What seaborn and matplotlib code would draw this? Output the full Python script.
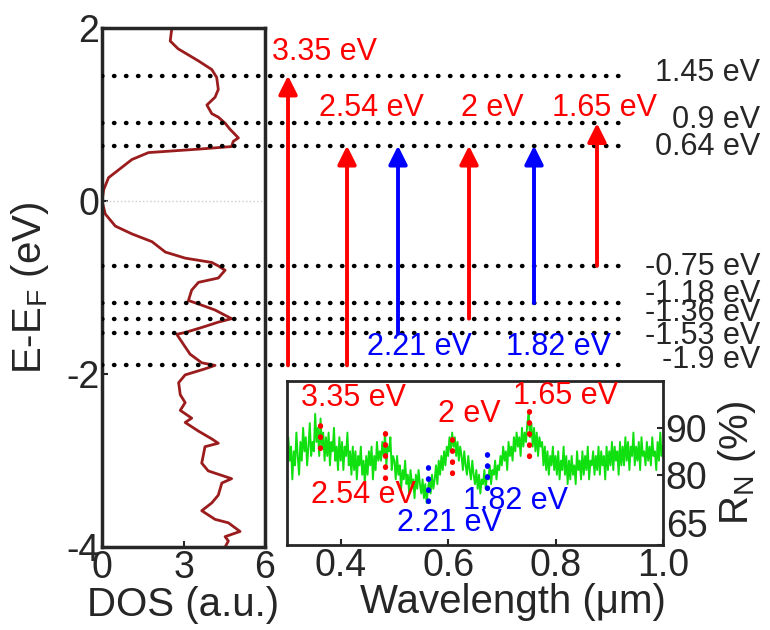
import numpy as np
import matplotlib
matplotlib.use("Agg")
import matplotlib.pyplot as plt
import seaborn as sns

# DOS curve (energy in eV, DOS in a.u.)
dos = [2.57, 2.51, 2.8, 3.55, 4.04, 4.22, 4.28, 4.16, 3.86, 4.04, 4.28, 4.53, 4.71,
       5.02, 4.83, 4.77, 3.55, 1.71, 1.10, 0.61, 0.24, 0.06, 0.0, 0.12, 0.49, 1.10,
       1.84, 2.33, 3.06, 4.04, 4.28, 4.53, 4.28, 3.55, 3.30, 3.18, 3.55, 4.16, 4.77,
       4.28, 3.79, 3.06, 2.75, 2.94, 3.24, 3.67, 4.16, 3.79, 3.06, 2.82, 2.88, 3.06,
       2.88, 3.30, 3.06, 3.55, 4.04, 4.28, 3.79, 3.67, 3.91, 4.77, 4.41, 4.28, 4.04,
       3.67, 4.16, 4.65, 5.08, 4.53, 4.65, 4.53]
energy = [2.0, 1.85, 1.76, 1.62, 1.52, 1.43, 1.29, 1.20, 1.11, 1.01, 0.97, 0.90, 0.83,
          0.73, 0.69, 0.63, 0.60, 0.56, 0.48, 0.36, 0.27, 0.13, 0.0, -0.15, -0.29, -0.38,
          -0.47, -0.59, -0.66, -0.71, -0.75, -0.80, -0.89, -0.94, -1.03, -1.15, -1.19, -1.26, -1.36,
          -1.40, -1.45, -1.52, -1.54, -1.63, -1.77, -1.87, -1.90, -1.94, -2.01, -2.10, -2.24, -2.33,
          -2.42, -2.51, -2.56, -2.66, -2.75, -2.80, -2.84, -3.03, -3.12, -3.21, -3.26, -3.40, -3.49,
          -3.58, -3.68, -3.72, -3.82, -3.88, -3.93, -4.0]

# energy levels
levels = [1.45, 0.9, 0.64, -0.75, -1.18, -1.36, -1.53, -1.9]
level_labels = ["1.45 eV", "0.9 eV", "0.64 eV", "-0.75 eV", "-1.18 eV", "-1.36 eV", "-1.53 eV", "-1.9 eV"]
level_label_y = [1.48, 0.94, 0.62, -0.76, -1.07, -1.29, -1.56, -1.84]

# transitions
trans_start = [-1.9, -1.9, -1.53, -1.36, -1.18, -0.75]
trans_end = [1.45, 0.64, 0.64, 0.64, 0.64, 0.9]
trans_labels = ["3.35 eV", "2.54 eV", "2.21 eV", "2 eV", "1.82 eV", "1.65 eV"]
trans_colors = ["red", "red", "blue", "red", "blue", "red"]

# inset reflectance spectrum (traced by hand)
wavelength = np.linspace(0.3, 1.0, 281)
refl = [81, 88, 83, 86, 79, 85, 82, 89, 84, 80,
        87, 83, 90, 85, 88, 82, 86, 91, 84, 87,
        85, 93, 87, 90, 84, 92, 86, 89, 83, 88,
        84, 89, 82, 87, 85, 90, 83, 86, 81, 88,
        83, 87, 81, 86, 84, 89, 82, 85, 80, 86,
        81, 85, 79, 84, 82, 86, 80, 83, 78, 84,
        80, 85, 82, 86, 79, 84, 81, 87, 83, 85,
        83, 87, 84, 89, 82, 86, 85, 88, 81, 84,
        83, 79, 84, 80, 82, 77, 81, 79, 83, 78,
        80, 76, 81, 78, 79, 75, 80, 77, 81, 78,
        76, 79, 75, 78, 74, 77, 79, 76, 80, 77,
        79, 82, 78, 83, 80, 84, 81, 85, 82, 86,
        84, 88, 85, 89, 86, 88, 84, 87, 83, 86,
        84, 81, 85, 82, 80, 84, 81, 79, 83, 80,
        78, 81, 77, 80, 76, 79, 78, 81, 77, 80,
        79, 82, 78, 81, 80, 83, 79, 82, 81, 84,
        82, 86, 83, 85, 81, 87, 84, 86, 83, 88,
        85, 89, 86, 88, 84, 90, 86, 89, 87, 91,
        93, 88, 91, 86, 90, 85, 89, 84, 88, 86,
        87, 82, 86, 81, 85, 80, 84, 82, 86, 81,
        84, 80, 85, 79, 83, 81, 86, 80, 84, 78,
        83, 79, 84, 80, 82, 78, 85, 81, 83, 79,
        85, 80, 84, 81, 86, 79, 83, 82, 85, 80,
        84, 81, 86, 80, 85, 82, 84, 79, 86, 81,
        85, 82, 87, 81, 86, 83, 85, 80, 87, 82,
        86, 82, 88, 83, 87, 81, 86, 84, 89, 82,
        86, 83, 87, 81, 88, 84, 85, 82, 87, 83,
        86, 82, 88, 84, 85, 81, 87, 83, 89, 84,
        86]
# dotted markers in the inset
mark_wl = [0.362, 0.482, 0.563, 0.608, 0.672, 0.75]
mark_lo = [85.7, 79.3, 74.3, 80.4, 77.1, 83.9]
mark_hi = [92.1, 89.6, 82.6, 88.8, 85.7, 93.6]
inset_text_x = [0.423, 0.443, 0.603, 0.64, 0.726, 0.818]
inset_text_y = [96.4, 75.7, 69.6, 92.9, 74.3, 96.8]

sns.set_style("ticks")
plt.rcParams["font.family"] = ["Liberation Sans", "DejaVu Sans"]
plt.rcParams["mathtext.fontset"] = "custom"
plt.rcParams["mathtext.rm"] = "Liberation Sans"
plt.rcParams["mathtext.it"] = "Liberation Sans"
plt.rcParams["axes.unicode_minus"] = False

fig = plt.figure(figsize=(7.7, 6.3), dpi=100)

# left DOS panel
ax = fig.add_axes([0.1325, 0.1317, 0.2117, 0.8238])
sns.lineplot(x=dos, y=energy, sort=False, estimator=None, color="#9b1c1c", lw=2, ax=ax)
ax.axhline(0, color="#cccccc", ls=":", lw=1)
ax.set_xlim(0, 6)
ax.set_ylim(-4, 2)
ax.set_xticks([0, 3, 6])
ax.set_yticks([-4, -2, 0, 2])
ax.tick_params(direction="in", labelsize=27, width=1.5, length=4, pad=2)
ax.set_xlabel("DOS (a.u.)", fontsize=29, labelpad=0)
ax.set_ylabel(r"E-E$_\mathregular{F}$ (eV)", fontsize=29)
ax.yaxis.set_label_coords(-0.31, 0.5)
for s in ax.spines.values():
    s.set_linewidth(2.5)

# overlay for levels and transitions (pixel-like x units from the left spine)
ov = fig.add_axes([0.1325, 0.1317, 0.8675, 0.8238])
ov.set_xlim(0, 668)
ov.set_ylim(-4, 2)
ov.axis("off")
ov.patch.set_visible(False)

for lv in levels:
    ov.plot([0, 520], [lv, lv], color="black", ls=(0, (0.1, 2.6)), lw=3.2,
            dash_capstyle="round")
for ly, lab in zip(level_label_y, level_labels):
    ov.text(658, ly, lab, ha="right", va="center", fontsize=22)

arrow_x = [186, 245, 296, 367, 432, 495]
label_x = [222, 269, 317, 390, 456, 502]
label_y = [1.72, 1.075, -1.69, 1.075, -1.69, 1.075]
for x, y0, y1, lab, c, tx, ty in zip(arrow_x, trans_start, trans_end, trans_labels,
                                      trans_colors, label_x, label_y):
    ov.annotate("", xy=(x, y1), xytext=(x, y0),
                arrowprops=dict(arrowstyle="-|>", color=c, lw=2.8,
                                mutation_scale=28, shrinkA=0, shrinkB=0))
    ov.text(tx, ty, lab, color=c, ha="center", va="center", fontsize=22)

# inset spectrum
ins = fig.add_axes([0.3727, 0.1349, 0.4883, 0.2603])
sns.lineplot(x=wavelength, y=refl, color="#10e010", lw=1.4, ax=ins)
for w, lo, hi, c in zip(mark_wl, mark_lo, mark_hi, trans_colors):
    ins.plot([w, w], [lo, hi], color=c, ls=(0, (0.1, 2.0)), lw=3.8,
             dash_capstyle="round")
for tx, ty, lab, c in zip(inset_text_x, inset_text_y, trans_labels, trans_colors):
    ins.text(tx, ty, lab, color=c, ha="center", va="center", fontsize=22)
ins.set_xlim(0.3, 1.0)
ins.set_ylim(65, 100)
ins.set_xticks([0.4, 0.6, 0.8, 1.0])
ins.set_xticklabels(["0.4", "0.6", "0.8", "1.0"])
ins.set_yticks([65, 80, 90])
ins.yaxis.tick_right()
ins.yaxis.set_label_position("right")
ins.tick_params(direction="in", labelsize=27, width=1.5, length=4, pad=2)
ins.get_yticklabels()[0].set_va("bottom")
ins.set_xlabel("Wavelength (\u03bcm)", fontsize=29)
ins.xaxis.set_label_coords(0.60, -0.23)
ins.set_ylabel(r"R$_\mathregular{N}$ (%)", fontsize=29, labelpad=6)
for s in ins.spines.values():
    s.set_linewidth(2)

fig.savefig("out.png", dpi=100)
